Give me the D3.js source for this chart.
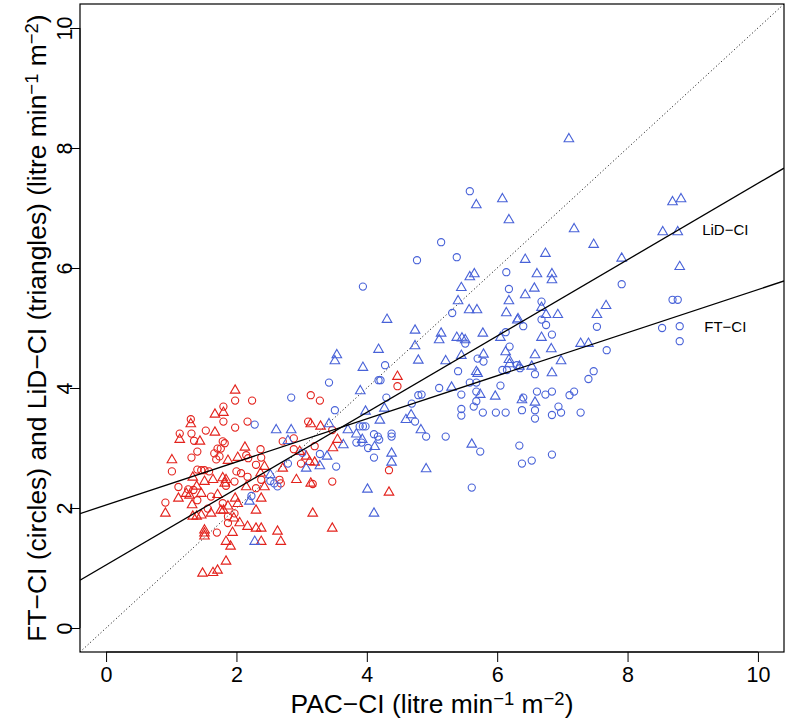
<!DOCTYPE html>
<html><head><meta charset="utf-8">
<script src="https://cdn.jsdelivr.net/npm/d3@7"></script>
<style>body{margin:0;background:#fff}svg{display:block;font-family:"Liberation Sans",Arial,Helvetica,sans-serif}</style>
</head><body><svg id="c" width="786" height="722"></svg>
<script>
const xTicks=[0,2,4,6,8,10];
const yTicks=[0,2,4,6,8,10];
const lineNames=["FT\u2212CI","LiD\u2212CI"];
const lineIntercepts=[2.05,1.05];
const lineSlopes=[0.359,0.636];
const labelX=[9.5,9.5];
const labelY=[5.02,6.63];

const redCircles=[[1.30,3.48],[1.13,3.24],[1.31,3.24],[1.35,3.12],[1.40,2.94],[1.31,2.84],[1.01,2.61],[1.40,2.64],[1.11,2.35],[1.26,2.31],[1.34,2.30],[0.91,2.09],
[1.98,3.79],[2.24,3.79],[1.80,3.69],[1.80,3.44],[2.17,3.44],[1.98,3.34],[1.53,3.29],[1.79,3.11],[1.82,3.08],[2.71,3.11],[2.88,3.16],[1.76,2.99],[1.71,2.99],[2.37,2.98],[2.88,2.98],[1.66,2.91],[1.74,2.86],[2.15,2.88],[2.18,2.83],[1.69,2.81],[2.38,2.84],[1.46,2.63],[1.51,2.63],[1.58,2.61],[2.00,2.61],[2.30,2.72],[2.07,2.58],[2.17,2.52],[1.97,2.44],[2.38,2.47],[2.66,2.47],[2.68,2.41],[1.84,2.37],[2.30,2.33],[1.61,2.19],[1.40,2.13],[1.79,2.08],[1.56,1.99],[1.97,1.91],[1.87,1.86],[1.87,1.75],[1.70,1.59],
[4.47,4.03],[3.14,3.88],[3.28,3.79],[3.10,3.44],[3.47,3.30],[3.20,3.03],[2.99,2.74],[4.34,2.63],[3.17,2.40],[3.47,2.44]];

const redTriangles=[[1.30,3.40],[1.13,3.14],[1.01,2.80],[1.33,2.51],[1.23,2.24],[1.28,2.21],[1.11,2.16],[1.32,2.05],[0.91,1.91],[1.33,1.86],[1.39,1.86],
[1.98,3.96],[1.80,3.59],[1.67,3.56],[1.67,3.26],[1.44,3.11],[2.13,3.01],[2.97,2.94],[2.02,2.84],[1.87,2.79],[2.43,2.69],[2.71,2.66],[1.79,2.50],[1.84,2.47],[1.82,2.41],[1.64,2.47],[1.51,2.44],[2.37,2.58],[2.92,2.47],[1.39,2.36],[2.15,2.35],[2.43,2.35],[1.46,2.24],[2.38,2.16],[1.98,2.16],[1.71,2.22],[2.02,2.07],[1.87,2.03],[2.30,1.96],[1.76,1.96],[1.80,1.96],[1.46,1.88],[1.61,1.91],[1.96,1.83],[2.05,1.75],[2.17,1.69],[2.30,1.66],[2.38,1.66],[2.63,1.61],[1.51,1.63],[1.51,1.58],[1.51,1.53],[1.94,1.59],[2.38,1.44],[2.68,1.44],[1.84,1.44],[1.91,1.36],[1.84,1.11],[1.48,0.91],[1.64,0.92],[1.71,0.96],
[4.47,4.19],[3.14,3.40],[3.29,3.36],[3.55,3.14],[3.48,3.00],[3.07,2.86],[3.12,2.77],[3.20,2.76],[3.14,2.41],[4.34,2.26],[3.17,1.91],[3.47,1.66]];

const blueCircles=[[2.84,3.84],[2.28,3.39],[2.79,2.74],[2.52,2.45],[2.63,2.36],[2.58,2.41],[2.23,2.20],
[3.94,5.69],[4.28,4.38],[4.18,4.13],[4.21,4.13],[3.42,4.09],[4.30,3.84],[3.51,3.63],[4.69,3.74],[4.79,3.88],[4.74,3.44],[3.89,3.36],[3.94,3.36],[3.98,3.36],[4.11,3.23],[4.17,3.19],[4.19,3.14],[4.38,3.24],[4.38,3.19],[3.84,3.09],[3.92,3.09],[4.02,3.00],[3.28,2.90],[3.01,2.92],[4.11,2.84],[3.53,2.69],
[5.58,7.28],[5.14,6.43],[4.77,6.13],[5.38,6.18],[6.14,5.93],[6.18,5.65],[5.31,5.25],[6.40,5.03],[5.51,4.74],[6.13,4.93],[6.19,4.69],[5.70,4.49],[5.79,4.44],[6.30,4.38],[6.35,4.33],[6.08,4.30],[6.15,4.30],[5.40,4.28],[5.58,4.09],[5.68,4.09],[5.11,4.00],[6.05,4.04],[5.68,3.94],[5.45,3.89],[4.84,3.89],[6.40,3.84],[5.68,3.78],[5.64,3.69],[5.45,3.65],[5.45,3.54],[5.78,3.59],[5.98,3.59],[6.13,3.59],[6.38,3.63],[4.91,3.19],[5.21,3.19],[5.74,2.94],[6.34,3.04],[6.38,2.74],[5.61,2.34],
[7.91,5.73],[6.68,5.44],[6.68,5.14],[6.75,5.05],[7.53,5.02],[6.84,4.89],[7.68,4.63],[6.58,4.23],[7.48,4.28],[7.40,4.15],[6.61,3.94],[6.74,3.89],[6.84,3.94],[7.11,3.88],[7.18,3.94],[6.58,3.63],[6.94,3.69],[6.98,3.59],[6.84,3.55],[7.28,3.59],[6.58,3.49],[6.53,2.79],[6.84,2.89],
[8.69,5.47],[8.77,5.47],[8.53,5.00],[8.80,5.03],[8.80,4.78]];

const blueTriangles=[[2.61,3.30],[2.84,3.30],[2.79,3.12],[3.07,2.66],[2.52,2.55],[2.20,2.11],[2.28,1.44],
[4.31,5.14],[4.74,4.96],[4.74,4.70],[4.18,4.64],[3.54,4.55],[3.51,4.45],[3.94,4.34],[4.79,4.46],[3.90,3.95],[3.98,3.61],[4.27,3.66],[4.68,3.55],[4.20,3.46],[4.60,3.47],[3.42,3.40],[3.71,3.30],[3.84,3.23],[3.93,3.14],[3.64,3.05],[4.12,3.02],[3.39,2.86],[4.38,2.91],[4.38,2.76],[3.28,2.70],[4.01,2.31],[4.11,1.91],
[5.68,7.05],[6.08,7.15],[6.18,6.80],[6.43,6.14],[5.58,5.85],[5.65,5.90],[5.45,5.67],[6.43,5.55],[5.40,5.45],[6.18,5.45],[5.57,5.30],[5.69,5.30],[6.14,5.25],[6.31,5.13],[6.32,5.15],[5.14,4.91],[5.11,4.80],[5.38,4.84],[5.46,4.83],[5.51,4.80],[5.78,4.91],[6.05,4.84],[6.13,4.60],[5.21,4.45],[5.45,4.54],[5.79,4.56],[6.18,4.47],[6.19,4.40],[6.34,4.36],[5.68,4.27],[5.70,4.24],[5.30,4.01],[5.74,3.89],[5.97,3.86],[6.38,3.80],[4.83,3.30],[5.61,3.06],[4.91,2.65],
[7.10,8.15],[7.18,6.65],[7.48,6.39],[6.74,6.24],[7.91,6.16],[6.61,5.90],[6.84,5.90],[6.84,5.80],[6.57,5.66],[6.68,5.34],[6.75,5.22],[6.93,5.22],[7.67,5.37],[7.53,5.22],[6.68,4.84],[7.28,4.74],[7.40,4.74],[6.83,4.65],[6.58,4.55],[6.98,4.45],[6.53,4.36],[6.84,4.25],[6.58,3.76],
[8.69,7.10],[8.82,7.15],[8.54,6.60],[8.77,6.60],[8.80,6.02]];

const RED="#e3221c", BLUE="#4862d8";
const L=80,R=784,T=4,B=652;
const svg=d3.select("#c");
const x=d3.scaleLinear().domain([-0.4,10.4]).range([L,R]);
const y=d3.scaleLinear().domain([-0.4,10.4]).range([B,T]);

svg.append("defs").append("clipPath").attr("id","pc").append("rect")
  .attr("x",L).attr("y",T).attr("width",R-L).attr("height",B-T);
const plot=svg.append("g").attr("clip-path","url(#pc)");

plot.append("line").attr("x1",x(-0.4)).attr("y1",y(-0.4)).attr("x2",x(10.4)).attr("y2",y(10.4))
  .attr("stroke","#000").attr("stroke-width",1).attr("stroke-dasharray","1,2.5");

const tri=s=>{const r=s/Math.sqrt(3);return `M0,${-r}L${s/2},${r/2}L${-s/2},${r/2}Z`;};
const triPath=tri(9.6);
function circles(data,col){
  plot.append("g").selectAll("circle").data(data).join("circle")
   .attr("cx",d=>x(d[0])).attr("cy",d=>y(d[1])).attr("r",3.6)
   .attr("fill","none").attr("stroke",col).attr("stroke-width",1.1);
}
function triangles(data,col){
  plot.append("g").selectAll("path").data(data).join("path")
   .attr("transform",d=>`translate(${x(d[0])},${y(d[1])})`).attr("d",triPath)
   .attr("fill","none").attr("stroke",col).attr("stroke-width",1.1);
}
circles(redCircles,RED); triangles(redTriangles,RED);
circles(blueCircles,BLUE); triangles(blueTriangles,BLUE);

lineIntercepts.forEach((a,i)=>{
  const b=lineSlopes[i];
  plot.append("line").attr("x1",x(-0.4)).attr("y1",y(a+b*-0.4)).attr("x2",x(10.4)).attr("y2",y(a+b*10.4))
   .attr("stroke","#000").attr("stroke-width",1.3);
  svg.append("text").attr("x",x(labelX[i])).attr("y",y(labelY[i])).attr("dy","0.35em")
   .attr("text-anchor","middle").attr("font-size",15).text(lineNames[i]);
});

svg.append("rect").attr("x",L).attr("y",T).attr("width",R-L).attr("height",B-T)
  .attr("fill","none").attr("stroke","#000").attr("stroke-width",1.2);

const fs=21.5;
const gx=svg.append("g").attr("transform",`translate(0,${B})`)
  .call(d3.axisBottom(x).tickValues(xTicks).tickSize(10).tickFormat(d3.format("d")));
gx.select(".domain").attr("d",`M${x(0)},0H${x(10)}`).attr("stroke-width",1);
gx.selectAll(".tick line").attr("stroke-width",1);
gx.selectAll(".tick text").attr("font-size",fs).attr("font-family","Liberation Sans, Arial, sans-serif").attr("fill","#000")
  .attr("y",22).attr("dy","0.35em");

const gy=svg.append("g").attr("transform",`translate(${L},0)`)
  .call(d3.axisLeft(y).tickValues(yTicks).tickSize(10).tickFormat(d3.format("d")));
gy.select(".domain").attr("d",`M0,${y(0)}V${y(10)}`).attr("stroke-width",1);
gy.selectAll(".tick line").attr("stroke-width",1);
gy.selectAll(".tick text").attr("font-size",fs).attr("font-family","Liberation Sans, Arial, sans-serif").attr("fill","#000")
  .attr("text-anchor","middle").attr("x",0).attr("y",0).attr("dy","0.35em")
  .attr("transform","translate(-16,0) rotate(-90)");

const tfs=26.4;
function title(sel){
  sel.append("tspan").attr("font-size",tfs*0.7).attr("dy","-0.42em").text("\u22121");
  sel.append("tspan").attr("dy","0.294em").text(" m");
  sel.append("tspan").attr("font-size",tfs*0.7).attr("dy","-0.42em").text("\u22122");
  sel.append("tspan").attr("dy","0.294em").text(")");
}
const xt=svg.append("text").attr("x",(L+R)/2).attr("y",704).attr("dy","0.35em").attr("text-anchor","middle")
  .attr("font-size",tfs);
xt.append("tspan").text("PAC\u2212CI (litre min");
title(xt);

const yt=svg.append("text").attr("transform",`translate(37,${(T+B)/2}) rotate(-90)`).attr("dy","0.35em")
  .attr("text-anchor","middle").attr("font-size",tfs);
yt.append("tspan").text("FT\u2212CI (circles) and LiD\u2212CI (triangles) (litre min");
title(yt);
</script></body></html>
